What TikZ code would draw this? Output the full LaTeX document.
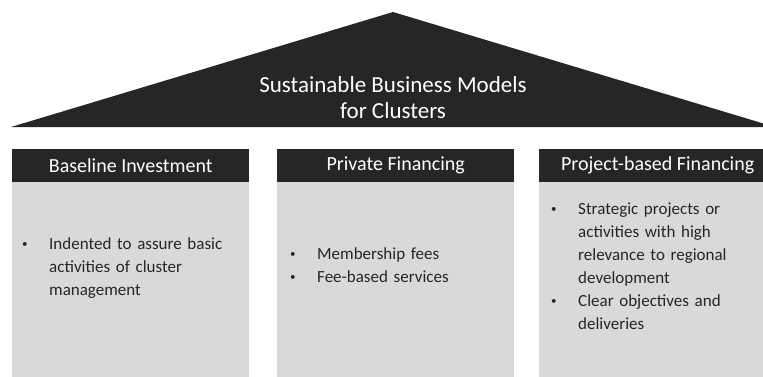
\documentclass[tikz,border=0pt]{standalone}
\usepackage{fontspec}
\setmainfont{Carlito}
\definecolor{roofdark}{HTML}{262626}
\definecolor{boxlight}{HTML}{D9D9D9}
\newcommand{\bitem}[1]{\noindent\hangindent=27pt\hangafter=1\makebox[27pt][l]{\raisebox{1.5pt}{\fontsize{11}{11}\selectfont\textbullet}}#1\par}

\begin{document}
\begin{tikzpicture}[x=1pt,y=-1pt,
    head/.style={fill=roofdark, text=white, minimum width=237pt, minimum height=33pt, inner sep=0pt, anchor=north west, font=\fontsize{20}{22}\selectfont},
    body/.style={fill=boxlight, minimum width=237pt, minimum height=200pt, inner sep=0pt, anchor=north west},
    bullets/.style={anchor=west, text=roofdark, align=left, inner sep=0pt, text width=215pt, font=\fontsize{17}{23}\selectfont}]
    \useasboundingbox (0,0) rectangle (763,376);
    \clip (0,0) rectangle (763,376);

    \fill[roofdark] (11,127) -- (393,12) -- (775,127) -- cycle;
    \node[text=white, align=center, inner sep=0pt, font=\fontsize{23}{26}\selectfont] (title) at (393,98) {Sustainable Business Models\\for Clusters};

    \node[body] (baseBody) at (12,182) {};
    \node[head] (baseHead) at (12,149) {Baseline Investment};
    \node[bullets] (baseText) at (22,268) {\bitem{Indented to assure basic\newline activities of cluster\newline management}};

    \node[body] (privBody) at (277,182) {};
    \node[head] (privHead) at (277,149) {Private Financing};
    \node[bullets] (privText) at (290,265) {\bitem{Membership fees}\bitem{Fee-based services}};

    \node[body] (projBody) at (539,182) {};
    \node[head] (projHead) at (539,149) {Project-based Financing};
    \node[bullets] (projText) at (551,266) {\bitem{Strategic projects or\newline activities with high\newline relevance to regional\newline development}\bitem{Clear objectives and\newline deliveries}};
\end{tikzpicture}
\end{document}
